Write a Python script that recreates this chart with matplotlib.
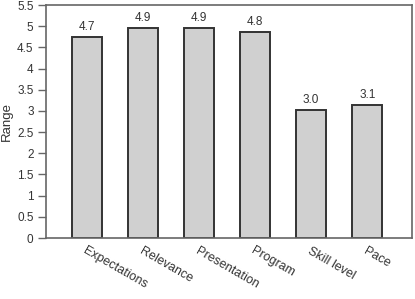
import matplotlib
matplotlib.use('Agg')
import matplotlib.pyplot as plt
import numpy as np

plt.rcParams['font.family'] = ['Liberation Sans', 'DejaVu Sans']

categories = ['Expectations', 'Relevance', 'Presentation', 'Program', 'Skill level', 'Pace']
values = [4.74, 4.95, 4.95, 4.87, 3.02, 3.13]
labels = ['4.7', '4.9', '4.9', '4.8', '3.0', '3.1']
yticks = [0, 0.5, 1, 1.5, 2, 2.5, 3, 3.5, 4, 4.5, 5, 5.5]

fig = plt.figure(figsize=(4.15, 2.99), dpi=100)
ax = fig.add_axes([0.111, 0.204, 0.882, 0.779])

x = np.arange(len(categories))
ax.bar(x, values, width=0.54, color='#d0d0d0', edgecolor='#333333', linewidth=1.4)
for xi, v, lab in zip(x, values, labels):
    ax.text(xi, v + 0.1, lab, ha='center', va='bottom', fontsize=8.5, color='#333333')

ax.set_xlim(-0.73, 5.8)
ax.set_ylim(0, 5.5)
ax.set_yticks(yticks)
ax.set_yticklabels([f'{t:g}' for t in yticks], fontsize=8.5, color='#333333')
ax.tick_params(axis='y', direction='out', length=6, width=1, color='#666666', pad=3)
ax.tick_params(axis='x', length=0, pad=5)
ax.set_xticks(x)
ax.set_xticklabels(categories, rotation=-30, ha='left', va='top',
                   rotation_mode='anchor', fontsize=9, color='#333333')
ax.set_ylabel('Range', fontsize=9.5, color='#333333')
ax.yaxis.set_label_coords(-0.092, 0.5)
for s in ax.spines.values():
    s.set_color('#666666')
    s.set_linewidth(1.2)

fig.savefig('out.png', dpi=100)
